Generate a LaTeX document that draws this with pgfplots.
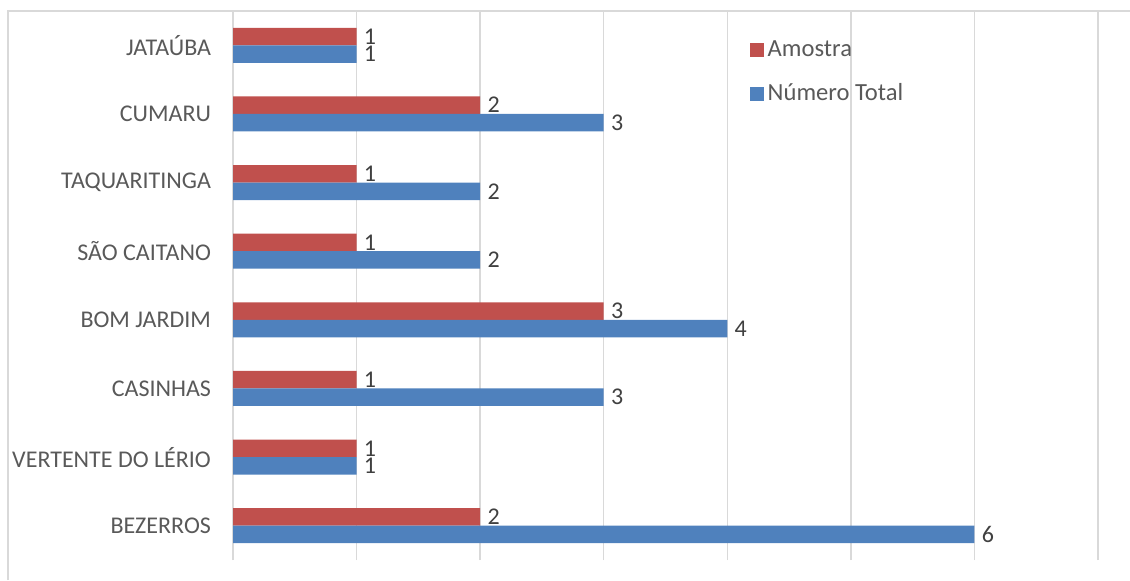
\documentclass[border=0pt]{standalone}
\usepackage{pgfplots}
\pgfplotsset{compat=1.18}
\usepackage{fontspec}
\setmainfont{Carlito}
\definecolor{redbar}{HTML}{C0504D}
\definecolor{bluebar}{HTML}{4F81BD}
\definecolor{gridgray}{HTML}{D9D9D9}
\definecolor{labgray}{HTML}{595959}
\definecolor{valgray}{HTML}{404040}
\begin{document}
\begin{tikzpicture}
\useasboundingbox (0,0) rectangle (565pt,290pt);
\begin{axis}[
  at={(116.5pt,10pt)}, anchor=south west,
  scale only axis, width=432.5pt, height=274.5pt,
  /pgf/number format/assume math mode=true,
  xbar, bar width=8.75pt,
  xmin=0, xmax=7, ymin=-0.5, ymax=7.5,
  xtick={0,...,7}, xticklabels={},
  ytick={0,...,7},
  yticklabels={BEZERROS, VERTENTE DO LÉRIO, CASINHAS, BOM JARDIM, SÃO CAITANO, TAQUARITINGA, CUMARU, JATAÚBA},
  major tick length=0pt,
  axis line style={draw=none},
  xmajorgrids, grid style={gridgray, line width=0.75pt},
  yticklabel style={font=\fontsize{12}{14}\selectfont, text=labgray, xshift=-7.5pt},
  nodes near coords,
  every node near coord/.append style={font=\fontsize{12}{13}\selectfont, text=valgray, inner sep=3.5pt},
  legend style={at={(rel axis cs:0.59,0.962)}, anchor=north west, draw=none, fill=none,
    font=\fontsize{12.3}{14}\selectfont, text=labgray, row sep=8.3pt},
  legend cell align=left,
  legend image code/.code={\fill[#1] (0pt,-3.5pt) rectangle (7pt,3.5pt);},
]
\addplot[draw=none, fill=redbar, bar shift=4.375pt] coordinates {
  (2,0) (1,1) (1,2) (3,3) (1,4) (1,5) (2,6) (1,7)};
\addlegendentry{Amostra}
\addplot[draw=none, fill=bluebar, bar shift=-4.375pt] coordinates {
  (6,0) (1,1) (3,2) (4,3) (2,4) (2,5) (3,6) (1,7)};
\addlegendentry{Número Total}
\end{axis}
\draw[gridgray, line width=0.75pt] (4pt,0pt) -- (4pt,284.5pt) -- (565pt,284.5pt);
\end{tikzpicture}
\end{document}
